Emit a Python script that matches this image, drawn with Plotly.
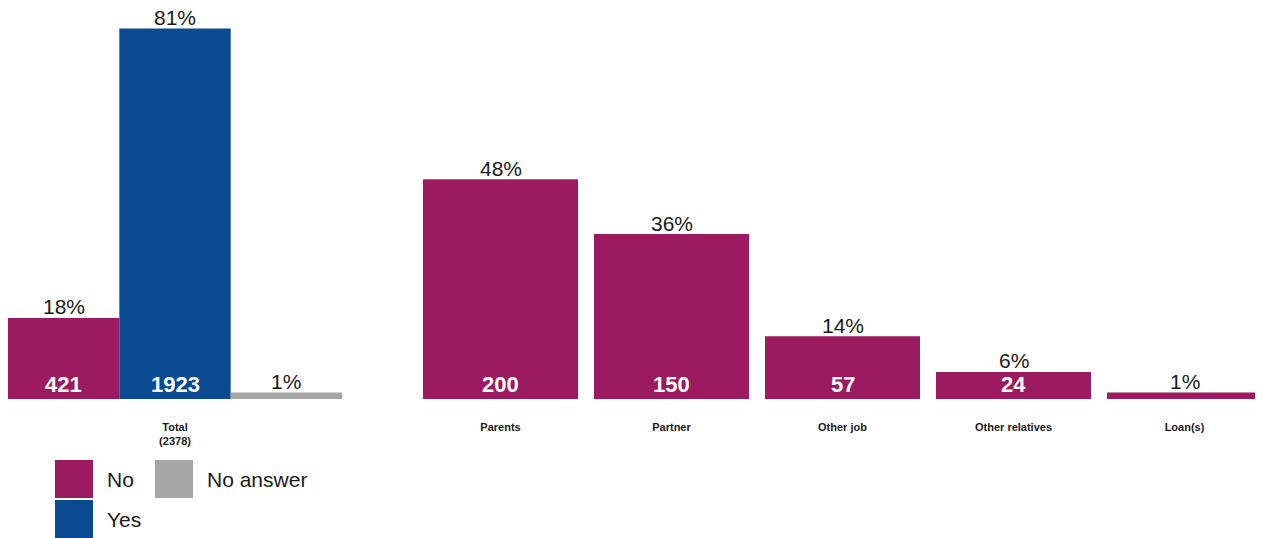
import plotly.graph_objects as go

# data
series = ["No", "Yes", "No answer"]
colors = {"No": "#9C1A60", "Yes": "#0A4A91", "No answer": "#A6A6A6"}

total_label = "Total<br>(2378)"
total_pct = [17.7, 80.9, 1.4]
total_n = [421, 1923, None]

sources = ["Parents", "Partner", "Other job", "Other relatives", "Loan(s)"]
source_pct = [48.0, 36.0, 13.7, 5.9, 1.4]
source_n = [200, 150, 57, 24, None]

# layout constants (pixels, page body adds 8px offset)
W, H = 1255, 530
BASE = 391          # baseline row of the bars
SCALE = 4.58        # px per percent
YMAX = BASE / SCALE
FONT = "Arial, Liberation Sans, sans-serif"
INK = "#1a1a1a"


def py(p):
    # pixel row -> paper y
    return (BASE - p) / BASE


def labels(x, pct, n, xref, yref):
    # percentage above the bar, count at its foot
    fig.add_annotation(
        x=x, y=pct, xref=xref, yref=yref, text=f"{pct:.0f}%",
        yanchor="middle", yshift=11, showarrow=False,
        font=dict(size=21, color=INK, family=FONT),
    )
    if n:
        fig.add_annotation(
            x=x, y=0, xref=xref, yref=yref, text=f"<b>{n}</b>",
            yanchor="middle", yshift=15, showarrow=False,
            font=dict(size=22, color="white", family=FONT),
        )


fig = go.Figure()

# left group: Total
bw = 1 / 3
for i, (name, pct) in enumerate(zip(series, total_pct)):
    off = -1.5 * bw + i * bw
    fig.add_trace(go.Bar(
        x=[total_label], y=[pct], name=name, width=bw, offset=off,
        marker=dict(color=colors[name], line_width=0),
        xaxis="x", yaxis="y", showlegend=False,
    ))
    labels(off + bw / 2, pct, total_n[i], "x", "y")

# right group: sources
fig.add_trace(go.Bar(
    x=sources, y=source_pct, name="No",
    marker=dict(color=colors["No"], line_width=0),
    xaxis="x2", yaxis="y2", showlegend=False,
))
for i, (pct, n) in enumerate(zip(source_pct, source_n)):
    labels(i, pct, n, "x2", "y2")

# hand-made legend with big squares
slots = [(47, 452), (47, 492), (147, 452)]
for name, (lx, ly) in zip(series, slots):
    fig.add_shape(
        type="rect", xref="paper", yref="paper",
        x0=lx / W, x1=(lx + 38) / W, y0=py(ly + 38), y1=py(ly),
        fillcolor=colors[name], line_width=0,
    )
    fig.add_annotation(
        x=(lx + 50) / W, y=py(ly + 20), xref="paper", yref="paper",
        text=name, xanchor="left", yanchor="middle", showarrow=False,
        font=dict(size=21, color=INK, family=FONT),
    )

axis_common = dict(
    showgrid=False, zeroline=False, showline=False, ticks="",
    tickfont=dict(size=11, color=INK, family=FONT, weight="bold"),
    ticklabelstandoff=20,
)
fig.update_layout(
    width=W, height=H,
    margin=dict(l=0, r=0, t=0, b=H - BASE),
    plot_bgcolor="white", paper_bgcolor="white",
    bargap=16 / 171,
    xaxis=dict(domain=[0, 334 / W], range=[-0.5, 0.5], **axis_common),
    xaxis2=dict(domain=[407 / W, 1], range=[-0.5, 4.5 - 7 / 171], anchor="y2", **axis_common),
    yaxis=dict(range=[0, YMAX], visible=False),
    yaxis2=dict(range=[0, YMAX], visible=False, anchor="x2"),
    font=dict(family=FONT),
)

fig.write_html("out.html")
